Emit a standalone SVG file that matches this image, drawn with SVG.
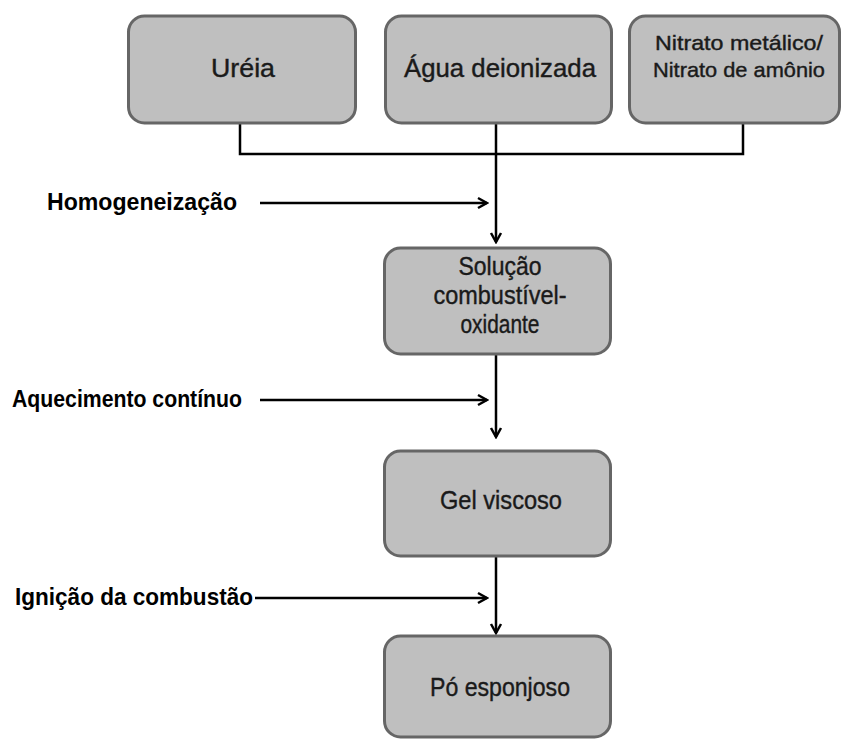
<svg xmlns="http://www.w3.org/2000/svg" width="846" height="740" viewBox="0 0 846 740">
<defs>
<style>
.box{fill:#bfbfbf;stroke:#666666;stroke-width:3}
.bt{font-family:"Liberation Sans",Arial,sans-serif;font-size:26px;fill:#1a1a1a;stroke:#1a1a1a;stroke-width:0.4;text-anchor:middle}
.lt{font-family:"Liberation Sans",Arial,sans-serif;font-size:24px;font-weight:bold;fill:#000}
.ln{fill:none;stroke:#000;stroke-width:2.5}
</style>
<marker id="ah" markerUnits="userSpaceOnUse" viewBox="-1 -7 12 14" refX="9" refY="0" markerWidth="12" markerHeight="14" orient="auto">
<path d="M0,-5 L9,0 L0,5" fill="none" stroke="#000" stroke-width="2.5"/>
</marker>
</defs>
<rect width="846" height="740" fill="#fff"/>
<g id="connectors">
<path class="ln" d="M240,124 V154 H743 V124"/>
<path class="ln" d="M496,124 V242" marker-end="url(#ah)"/>
<path class="ln" d="M496,355 V437" marker-end="url(#ah)"/>
<path class="ln" d="M496,557 V633" marker-end="url(#ah)"/>
<path class="ln" d="M260,203 H487" marker-end="url(#ah)"/>
<path class="ln" d="M260,400 H487" marker-end="url(#ah)"/>
<path class="ln" d="M255,598 H487" marker-end="url(#ah)"/>
</g>
<g id="ureia">
<rect class="box" x="128.5" y="16" width="227" height="107" rx="16"/>
<text class="bt" x="243" y="77" textLength="64" lengthAdjust="spacingAndGlyphs">Uréia</text>
</g>
<g id="agua">
<rect class="box" x="385.5" y="16" width="226" height="107" rx="16"/>
<text class="bt" x="500" y="77" textLength="192" lengthAdjust="spacingAndGlyphs">Água deionizada</text>
</g>
<g id="nitrato">
<rect class="box" x="629.5" y="16" width="210" height="107" rx="16"/>
<text class="bt" x="739" y="50" style="font-size:21px" textLength="168" lengthAdjust="spacingAndGlyphs">Nitrato metálico/</text>
<text class="bt" x="739" y="77" style="font-size:21px" textLength="172" lengthAdjust="spacingAndGlyphs">Nitrato de amônio</text>
</g>
<g id="solucao">
<rect class="box" x="384.5" y="248" width="226" height="106" rx="16"/>
<text class="bt" x="500" y="275" textLength="83" lengthAdjust="spacingAndGlyphs">Solução</text>
<text class="bt" x="500" y="304" textLength="133" lengthAdjust="spacingAndGlyphs">combustível-</text>
<text class="bt" x="500" y="333" textLength="79" lengthAdjust="spacingAndGlyphs">oxidante</text>
</g>
<g id="gel">
<rect class="box" x="384.5" y="451" width="226" height="105" rx="16"/>
<text class="bt" x="501" y="509" textLength="122" lengthAdjust="spacingAndGlyphs">Gel viscoso</text>
</g>
<g id="po">
<rect class="box" x="384.5" y="636" width="226" height="101" rx="16"/>
<text class="bt" x="500" y="696" textLength="140" lengthAdjust="spacingAndGlyphs">Pó esponjoso</text>
</g>
<g id="homogeneizacao">
<text class="lt" x="47" y="210" textLength="190" lengthAdjust="spacingAndGlyphs">Homogeneização</text>
</g>
<g id="aquecimento">
<text class="lt" x="12" y="407" textLength="230" lengthAdjust="spacingAndGlyphs">Aquecimento contínuo</text>
</g>
<g id="ignicao">
<text class="lt" x="15" y="605" textLength="238" lengthAdjust="spacingAndGlyphs">Ignição da combustão</text>
</g>
</svg>
